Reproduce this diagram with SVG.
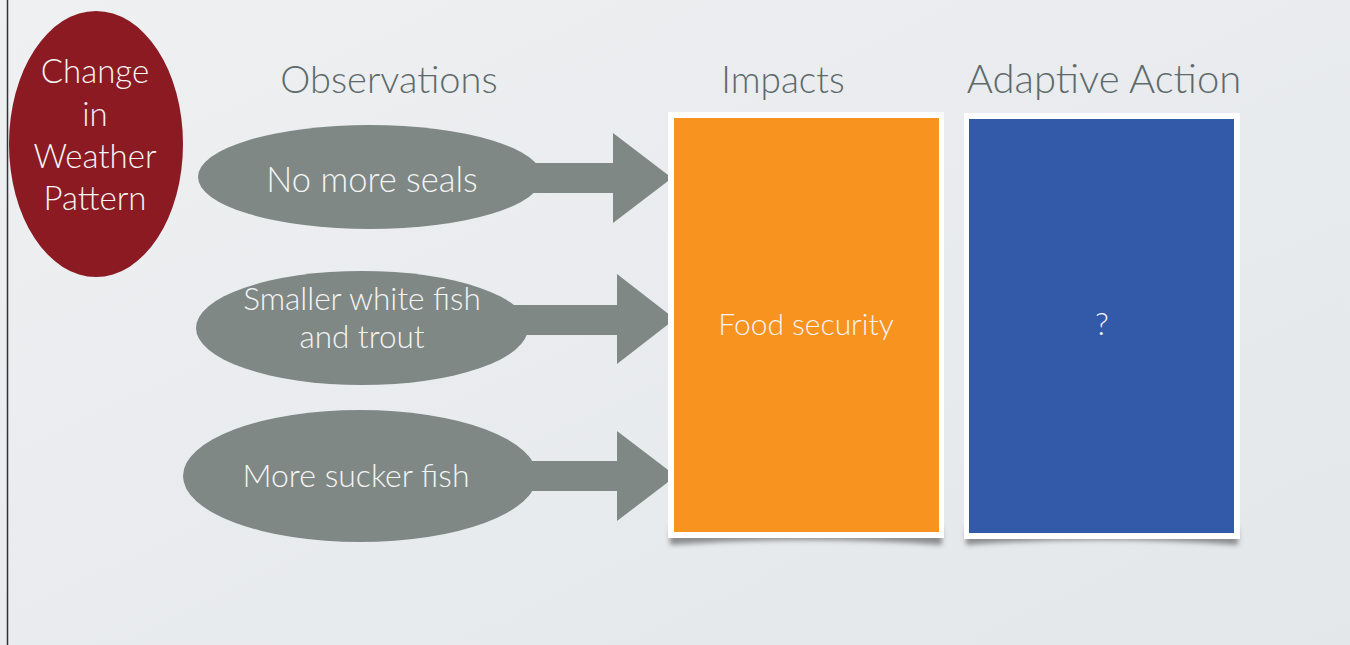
<svg xmlns="http://www.w3.org/2000/svg" width="1350" height="645" viewBox="0 0 1350 645">
  <defs>
    <linearGradient id="bg" x1="0" y1="0" x2="1" y2="1">
      <stop offset="0" stop-color="#eef0f2"/>
      <stop offset="1" stop-color="#e4e7ea"/>
    </linearGradient>
    <filter id="blur" x="-10%" y="-50%" width="120%" height="200%">
      <feGaussianBlur stdDeviation="2.5"/>
    </filter>
  </defs>
  <style>
    .title { font-family: Lato, "Open Sans", sans-serif; font-weight: 300; font-size: 38px; fill: #5e6a6a; text-anchor: middle; }
    .lbl { font-family: Lato, "Open Sans", sans-serif; font-weight: 300; font-size: 32px; fill: #f4f4f4; text-anchor: middle; }
    .red { font-size: 33px; }
    .obs { fill: #7f8885; }
    .arrow { fill: #7f8885; }
    .frame { fill: #ffffff; }
    .shadow { fill: #6e6e6e; opacity: 0.75; filter: url(#blur); }
  </style>
  <rect x="0" y="0" width="1350" height="645" fill="url(#bg)"/>
  <line x1="7.5" y1="0" x2="7.5" y2="645" stroke="#333333" stroke-width="1.5"/>

  <g id="change">
    <ellipse cx="96" cy="144" rx="87" ry="133" fill="#8c1a22"/>
    <text class="lbl red" x="95" y="83">Change</text>
    <text class="lbl red" x="95" y="126">in</text>
    <text class="lbl red" x="95" y="168">Weather</text>
    <text class="lbl red" x="95" y="210">Pattern</text>
  </g>

  <g id="titles">
    <text class="title" x="389" y="93">Observations</text>
    <text class="title" x="783" y="93" style="font-size:37px">Impacts</text>
    <text class="title" x="1104" y="93" style="font-size:40px">Adaptive Action</text>
  </g>

  <g id="connectors">
    <polygon class="arrow" points="520,163 613,163 613,133 672,178 613,223 613,193 520,193"/>
    <polygon class="arrow" points="510,305 617,305 617,274 675,319 617,364 617,335 510,335"/>
    <polygon class="arrow" points="520,461 617,461 617,431 676,476 617,521 617,491 520,491"/>
  </g>

  <g id="obs1">
    <ellipse class="obs" cx="370" cy="177" rx="172" ry="52"/>
    <text class="lbl" x="372" y="192" style="font-size:34.5px">No more seals</text>
  </g>
  <g id="obs2">
    <ellipse class="obs" cx="362" cy="328" rx="166" ry="57"/>
    <text class="lbl" x="362" y="310" style="font-size:31.5px">Smaller white fish</text>
    <text class="lbl" x="362" y="348" style="font-size:31.5px">and trout</text>
  </g>
  <g id="obs3">
    <ellipse class="obs" cx="360" cy="476" rx="177" ry="66"/>
    <text class="lbl" x="356" y="487">More sucker fish</text>
  </g>

  <g id="impacts">
    <path class="shadow" d="M670,528 L942,528 L942,545 Q806,535 670,545 Z"/>
    <rect class="frame" x="668" y="112" width="276" height="426"/>
    <rect x="674" y="118" width="265" height="414" fill="#f7931e"/>
    <text class="lbl" x="806" y="335" style="font-size:30px">Food security</text>
  </g>

  <g id="adaptive">
    <path class="shadow" d="M966,528 L1238,528 L1238,545 Q1102,535 966,545 Z"/>
    <rect class="frame" x="964" y="113" width="276" height="426"/>
    <rect x="969" y="119" width="265" height="414" fill="#325aa8"/>
    <text class="lbl" x="1102" y="335">?</text>
  </g>
</svg>
